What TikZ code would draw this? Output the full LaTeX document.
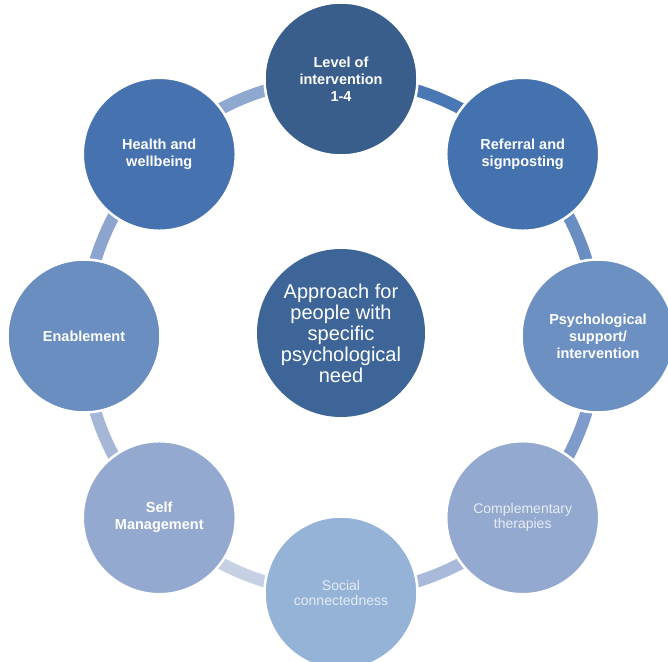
\documentclass[tikz,border=0pt]{standalone}
\usepackage{fontspec}
\setmainfont{Liberation Sans}
\usetikzlibrary{backgrounds,calc}

\definecolor{lvlcol}{HTML}{3A5E8C}
\definecolor{refcol}{HTML}{4472AE}
\definecolor{psycol}{HTML}{6D90C3}
\definecolor{comcol}{HTML}{93A9CF}
\definecolor{soccol}{HTML}{95B3D7}
\definecolor{selcol}{HTML}{94A9CF}
\definecolor{enacol}{HTML}{6B8EC1}
\definecolor{heacol}{HTML}{4673AF}
\definecolor{midcol}{HTML}{3D6597}
\definecolor{softtxt}{HTML}{E6ECF5}

\tikzset{
  ringcircle/.style={circle, minimum size=153pt, inner sep=0pt, draw=white,
    line width=2.5pt, align=center, text=white},
  boldtext/.style={font=\fontsize{14.5}{17}\selectfont\bfseries},
  softtext/.style={font=\fontsize{14}{15}\selectfont, text=softtxt},
  ringlink/.style={line width=12pt}
}

\begin{document}
\begin{tikzpicture}[x=1pt,y=1pt]
\useasboundingbox (0,0) rectangle (668,661);
\def\R{257} % radius of the ring
\coordinate (hub) at (341,325); % centre of the ring

% the eight circles round the ring
\foreach \ang/\nm/\col/\sty/\txt in {
  90/lvl/lvlcol/boldtext/{Level of\\intervention\\1-4},
  45/ref/refcol/boldtext/{Referral and\\signposting},
  0/psy/psycol/boldtext/{Psychological\\support/\\intervention},
  -45/com/comcol/softtext/{Complementary\\therapies},
  -90/soc/soccol/softtext/{Social\\connectedness},
  -135/sel/selcol/boldtext/{Self\\Management},
  180/ena/enacol/boldtext/{Enablement},
  135/hea/heacol/boldtext/{Health and\\wellbeing}}
{
  \node [ringcircle, fill=\col, \sty] (\nm) at ($(hub)+(\ang:\R)$) {\txt};
}

% the middle circle
\node [circle, minimum size=168pt, inner sep=0pt, fill=midcol, align=center,
  text=white, font=\fontsize{20}{21}\selectfont] (mid) at (341,328)
  {Approach for\\people with\\specific\\psychological\\need};

% links between neighbours, behind the circles
\begin{pgfonlayer}{background}
\foreach \from/\ang/\col in {lvl/90/4A78B5, ref/45/6A8EC2, psy/0/7E9BCB,
  com/-45/A8B9DA, soc/-90/C5D0E5, sel/-135/A6B6D7, ena/180/8DA4CE, hea/135/8FA8D0}
{
  \definecolor{linkcol}{HTML}{\col}
  \draw [ringlink, linkcol] (\from.center) arc[start angle=\ang, delta angle=-45, radius=\R];
}
\end{pgfonlayer}
\end{tikzpicture}
\end{document}
